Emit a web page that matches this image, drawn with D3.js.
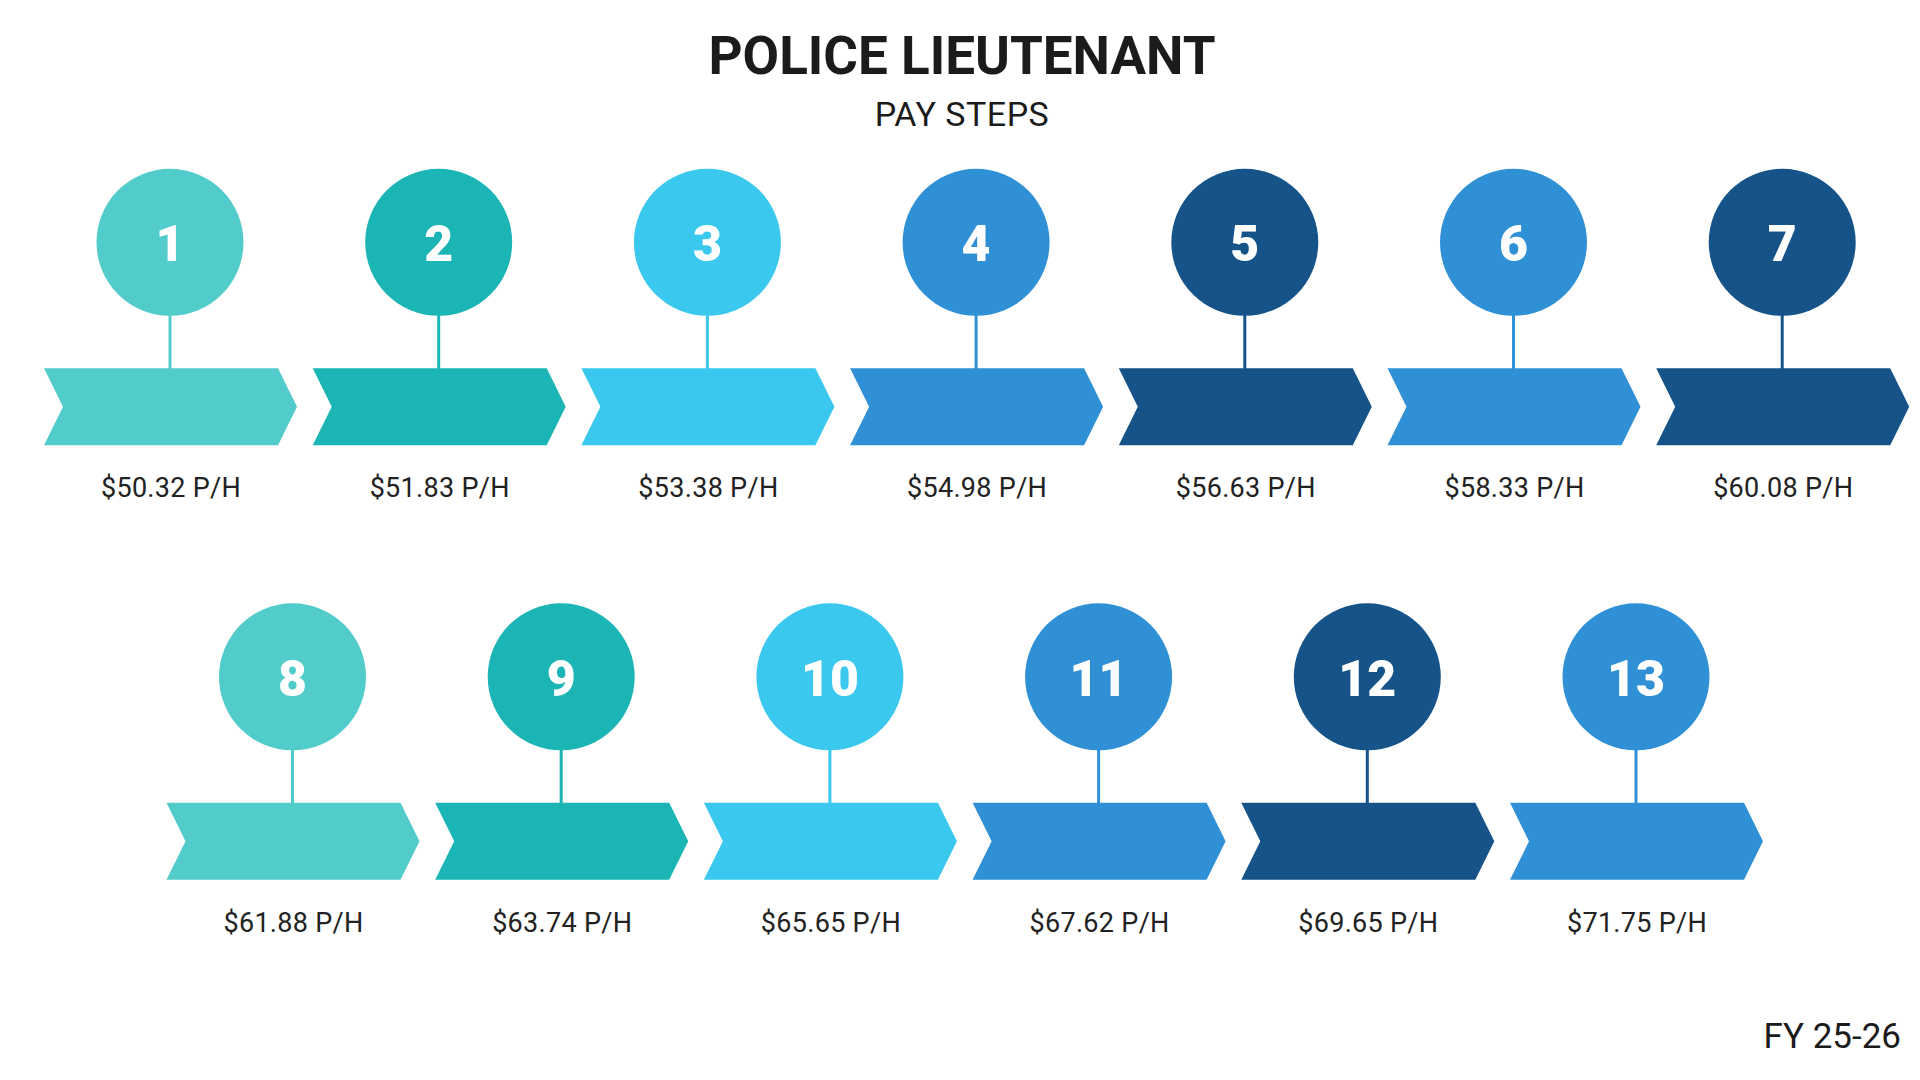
<!DOCTYPE html>
<html>
<head>
<meta charset="utf-8">
<script src="https://cdn.jsdelivr.net/npm/d3@7"></script>
<style>
  html, body { margin: 0; padding: 0; background: #fff; }
  svg { display: block; }
</style>
</head>
<body>
<div id="graf"></div>
<script>
// datos: pasos y tarifa por hora
const steps = [1, 2, 3, 4, 5, 6, 7, 8, 9, 10, 11, 12, 13]
const rates = [50.32, 51.83, 53.38, 54.98, 56.63, 58.33, 60.08,
               61.88, 63.74, 65.65, 67.62, 69.65, 71.75]
const rowOf = [0, 0, 0, 0, 0, 0, 0, 1, 1, 1, 1, 1, 1]

const titleText = 'POLICE LIEUTENANT'
const subtitleText = 'PAY STEPS'
const footerText = 'FY 25-26'

// estilos
const colors = ['#52cccb', '#1ab5b4', '#3ac8ef', '#2f90d6', '#155389', '#2f90d6', '#155389',
                '#52cccb', '#1ab5b4', '#3ac8ef', '#2f90d6', '#155389', '#2f90d6']

const ancho = 1920, alto = 1080

const svg = d3.select('#graf').append('svg')
  .attr('width', ancho)
  .attr('height', alto)

// configuracion de la flecha
const arrowW = 253, arrowH = 77, notch = 19, tip = 19
const radius = 73.5

// escalas: posicion en la fila y fila
const x = d3.scaleLinear().domain([0, 6]).range([44, 44 + 6 * 268.7])
const rowShift = d3.scaleOrdinal().domain([0, 1]).range([0, 122.5])
const rowY = d3.scaleLinear().domain([0, 1]).range([0, 434.5])

const items = steps.map((s, i) => {
  const row = rowOf[i]
  const idx = i - rowOf.indexOf(row)
  return { step: s, rate: rates[i], row: row, idx: idx, color: colors[i] }
})

const left = d => x(d.idx) + rowShift(d.row)
const cx = d => left(d) + arrowW / 2 - 0.5
const top0 = d => 368.3 + rowY(d.row)
const cy = d => 242.3 + rowY(d.row)

// titulo
svg.append('text')
  .attr('x', 962).attr('y', 74)
  .attr('text-anchor', 'middle')
  .style('font-family', 'Roboto')
  .style('font-weight', 700)
  .style('font-size', '53px')
  .style('fill', '#1b1b1b')
  .text(titleText)

svg.append('text')
  .attr('x', 962).attr('y', 126)
  .attr('text-anchor', 'middle')
  .style('font-family', 'Roboto')
  .style('font-size', '34px')
  .style('letter-spacing', '0.5px')
  .style('fill', '#1b1b1b')
  .text(subtitleText)

const g = svg.selectAll('g.step')
  .data(items)
  .enter()
  .append('g')
    .attr('class', 'step')

// flechas
g.append('path')
  .attr('d', d => {
    const x0 = left(d), y0 = top0(d), y1 = y0 + arrowH, ym = y0 + arrowH / 2
    const p = d3.path()
    p.moveTo(x0, y0)
    p.lineTo(x0 + arrowW - tip, y0)
    p.lineTo(x0 + arrowW, ym)
    p.lineTo(x0 + arrowW - tip, y1)
    p.lineTo(x0, y1)
    p.lineTo(x0 + notch, ym)
    p.closePath()
    return p.toString()
  })
  .attr('fill', d => d.color)

// linea vertical
g.append('line')
  .attr('x1', cx).attr('x2', cx)
  .attr('y1', d => cy(d) + radius - 1)
  .attr('y2', d => top0(d) + 1)
  .attr('stroke', d => d.color)
  .attr('stroke-width', 3)

// circulos
g.append('circle')
  .attr('cx', cx)
  .attr('cy', cy)
  .attr('r', radius)
  .attr('fill', d => d.color)

g.append('text')
  .attr('x', cx)
  .attr('y', d => cy(d) + 19)
  .attr('text-anchor', 'middle')
  .style('font-family', 'Roboto')
  .style('font-weight', 900)
  .style('font-size', '50px')
  .style('fill', '#fff')
  .text(d => d.step)

// etiquetas de tarifa
g.append('text')
  .attr('x', d => cx(d) + 1)
  .attr('y', d => 497 + rowY(d.row))
  .attr('text-anchor', 'middle')
  .style('font-family', 'Roboto')
  .style('font-size', '27px')
  .style('letter-spacing', '0.3px')
  .style('fill', '#222')
  .text(d => '$' + d3.format('.2f')(d.rate) + ' P/H')

// pie
svg.append('text')
  .attr('x', 1901).attr('y', 1048)
  .attr('text-anchor', 'end')
  .style('font-family', 'Roboto')
  .style('font-size', '35px')
  .style('fill', '#1b1b1b')
  .text(footerText)
</script>
</body>
</html>
